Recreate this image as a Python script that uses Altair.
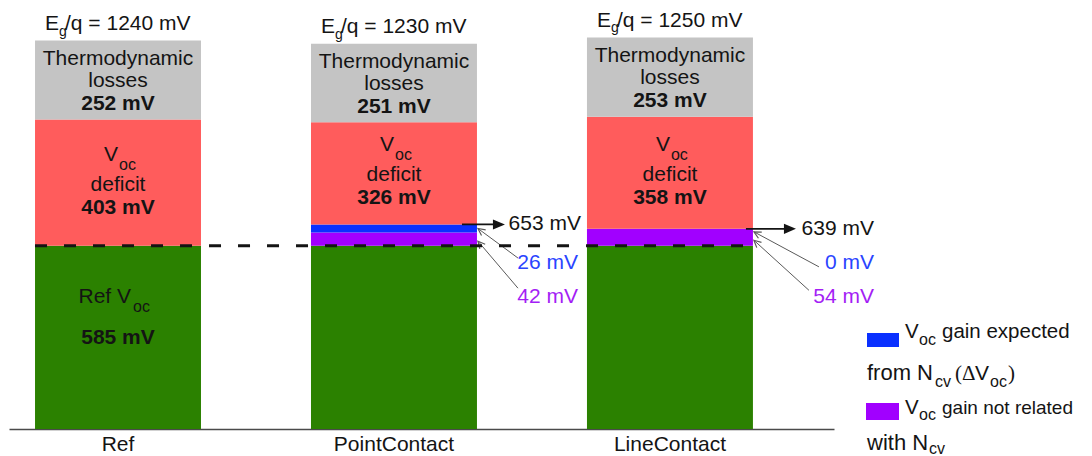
import math
import pandas as pd
import altair as alt

# ---------------- data ----------------
categories = ["Ref", "PointContact", "LineContact"]
ref_voc = [585, 585, 585]
gain_not_ncv = [0, 42, 54]      # purple: Voc gain not related with Ncv
gain_ncv = [0, 26, 0]           # blue: Voc gain expected from Ncv
voc_deficit = [403, 326, 358]
thermo_losses = [252, 251, 253]
bandgap = [1240, 1230, 1250]
reference_voc = 585

SEGMENTS = ["ref", "other", "ncv", "deficit", "thermo"]
COLORS = ["#2b8100", "#a100ff", "#0a30ff", "#ff5c5c", "#c4c4c4"]
BLUE_TXT = "#2a44ff"
PURPLE_TXT = "#a41ef5"

SANS = "Liberation Sans"
SERIF = "Liberation Serif"
INK = "#141414"
GREY_ARROW = "#5a5a5a"

rows = []
for i, cat in enumerate(categories):
    base = 0.0
    for seg, vals in zip(SEGMENTS, [ref_voc, gain_not_ncv, gain_ncv, voc_deficit, thermo_losses]):
        v = vals[i]
        rows.append({"cat": cat, "seg": seg, "value": v, "y0": base,
                     "y1": base + v, "mid": base + v / 2})
        base += v
seg_df = pd.DataFrame(rows)

xscale = alt.Scale(domain=categories, paddingInner=0.3986, paddingOuter=0.194, align=0.243)
yscale = alt.Scale(domain=[0, 1344], nice=False, zero=True)
xaxis = alt.Axis(labelAngle=0, ticks=False, domainColor="#4a4a4a", domainWidth=1.6,
                 labelFont=SANS, labelFontSize=21, labelColor=INK, labelPadding=4,
                 title=None, grid=False)


def X(field="cat", band=None):
    if band is None:
        return alt.X(f"{field}:N", scale=xscale, axis=xaxis, title=None)
    return alt.X(f"{field}:N", scale=xscale, axis=xaxis, title=None, bandPosition=band)


def Y(field):
    return alt.Y(f"{field}:Q", scale=yscale, axis=None)


def text(df, col, dy, dx=0, size=21, weight="normal", align="center", color=INK,
         yfield="mid", font=SANS, baseline="alphabetic", band=0.5):
    return alt.Chart(df).mark_text(
        dx=dx, dy=dy, fontSize=size, fontWeight=weight, align=align,
        baseline=baseline, color=color, font=font
    ).encode(x=X("cat", band), y=Y(yfield), text=alt.Text(f"{col}:N"))


one = pd.DataFrame({"k": [0]})


def ltext(s, x, y, size=21, font=SANS, color=INK):
    return alt.Chart(one).mark_text(
        text=s, align="left", baseline="alphabetic", fontSize=size, font=font, color=color
    ).encode(x=alt.value(x), y=alt.value(y))


def lrect(color, x, x2, y, y2):
    return alt.Chart(one).mark_rect(color=color).encode(
        x=alt.value(x), x2=alt.value(x2), y=alt.value(y), y2=alt.value(y2))


layers = []

# ---------------- stacked bars ----------------
bars = alt.Chart(seg_df).mark_bar().encode(
    x=X("cat"),
    y=Y("y0"),
    y2="y1:Q",
    color=alt.Color("seg:N", scale=alt.Scale(domain=SEGMENTS, range=COLORS), legend=None),
)
layers.append(bars)

# ---------------- segment labels ----------------
gray = seg_df[seg_df.seg == "thermo"].copy()
gray["l1"] = "Thermodynamic"
gray["l2"] = "losses"
gray["l3"] = gray.value.astype(int).astype(str) + " mV"
layers += [text(gray, "l1", -15), text(gray, "l2", 7), text(gray, "l3", 30, weight="bold")]

red = seg_df[seg_df.seg == "deficit"].copy()
red["a"] = "V"
red["b"] = "oc"
red["c"] = "deficit"
red["d"] = red.value.astype(int).astype(str) + " mV"
layers += [text(red, "a", -22, dx=0, align="right"),
           text(red, "b", -13, dx=1, align="left", size=16),
           text(red, "c", 8),
           text(red, "d", 31, weight="bold")]

green = seg_df[(seg_df.seg == "ref") & (seg_df.cat == "Ref")].copy()
green["a"] = "Ref V"
green["b"] = "oc"
green["d"] = green.value.astype(int).astype(str) + " mV"
layers += [text(green, "a", -34, dx=13, align="right"),
           text(green, "b", -25, dx=15, align="left", size=16),
           text(green, "d", 7, weight="bold")]

top = pd.DataFrame({"cat": categories, "eg": bandgap})
top["a"] = "E"
top["b"] = "g"
top["c"] = "/q = " + top.eg.astype(str) + " mV"
layers += [text(top, "a", -10.5, dx=-59, align="right", yfield="eg"),
           text(top, "b", -5, dx=-59, align="left", size=14, yfield="eg"),
           text(top, "c", -10.5, dx=-53, align="left", yfield="eg")]

# ---------------- annotations with arrows ----------------
HEAD = "M0,0 L-1,-0.42 L-1,0.42 Z"
OPEN_HEAD = "M-1,-0.5 L0,0 L-1,0.5"

ann_style = {
    "PointContact": dict(arrow=(-15, 28), total_right=104, lab_right=101,
                         ncv_dy=34.5, oth_dy=58,
                         a1=((41, 29.5), (1, 0)), a2=((41, 49), (1, 2))),
    "LineContact": dict(arrow=(-7, 43), total_right=121, lab_right=121,
                        ncv_dy=34, oth_dy=60,
                        a1=((66, 38), (1, 3)), a2=((56, 53), (1, 3))),
}

for cat, st in ann_style.items():
    i = categories.index(cat)
    total = ref_voc[i] + gain_not_ncv[i] + gain_ncv[i]
    df = pd.DataFrame({
        "cat": [cat],
        "total": [total],
        "ncv_mid": [ref_voc[i] + gain_not_ncv[i] + gain_ncv[i] / 2],
        "oth_mid": [ref_voc[i] + gain_not_ncv[i] / 2],
        "t_total": [f"{total} mV"],
        "t_ncv": [f"{gain_ncv[i]} mV"],
        "t_oth": [f"{gain_not_ncv[i]} mV"],
    })
    a0, a1 = st["arrow"]
    layers.append(alt.Chart(df).mark_rule(color=INK, strokeWidth=1.7, xOffset=a0, x2Offset=a1 - 8).encode(
        x=X("cat", 1), x2=alt.X2("cat:N", bandPosition=1), y=Y("total")))
    layers.append(alt.Chart(df).mark_point(shape=HEAD, size=576, filled=True, color=INK, opacity=1,
                                           xOffset=a1).encode(x=X("cat", 1), y=Y("total")))
    layers.append(text(df, "t_total", 0, dx=st["total_right"], align="right", yfield="total",
                       baseline="middle", band=1))
    for key, field, col, dy, color in [("a1", "ncv_mid", "t_ncv", st["ncv_dy"], BLUE_TXT),
                                       ("a2", "oth_mid", "t_oth", st["oth_dy"], PURPLE_TXT)]:
        (sx, sy), (tx, ty) = st[key]
        ang = math.degrees(math.atan2(ty - sy, tx - sx)) % 360
        layers.append(alt.Chart(df).mark_rule(color=GREY_ARROW, strokeWidth=1,
                                              xOffset=sx, x2Offset=tx, yOffset=sy, y2Offset=ty).encode(
            x=X("cat", 1), x2=alt.X2("cat:N", bandPosition=1), y=Y(field), y2=alt.Y2(f"{field}:Q")))
        layers.append(alt.Chart(df).mark_point(shape=OPEN_HEAD, size=196, filled=False, color=GREY_ARROW,
                                               strokeWidth=1.2, opacity=1, angle=ang,
                                               xOffset=tx, yOffset=ty).encode(x=X("cat", 1), y=Y(field)))
        layers.append(text(df, col, dy, dx=st["lab_right"], align="right", yfield=field,
                           baseline="middle", band=1, color=color))

# ---------------- dashed reference line ----------------
dash_df = pd.DataFrame({"cat": [categories[0]], "end": [categories[-1]], "v": [reference_voc]})
layers.append(alt.Chart(dash_df).mark_rule(color=INK, strokeWidth=3, strokeDash=[12, 17]).encode(
    x=X("cat", 0),
    x2=alt.X2("end:N", bandPosition=1),
    y=Y("v")))

# ---------------- custom legend ----------------
layers += [
    lrect(COLORS[2], 858, 890, 325, 339),
    ltext("V", 896, 330, size=20.5),
    ltext("oc", 910, 337, size=16),
    ltext("gain expected", 933, 330, size=20.5),
    ltext("from N", 858, 372, size=22),
    ltext("cv", 926, 379, size=16),
    ltext("(Δ", 946, 372, font=SERIF),
    ltext("V", 966, 372),
    ltext("oc", 981, 379, size=16),
    ltext(")", 999, 372, font=SERIF),
    lrect(COLORS[1], 857, 890, 395, 412),
    ltext("V", 896, 406, size=20.5),
    ltext("oc", 910, 412, size=16),
    ltext("gain not related", 933, 406, size=19),
    ltext("with N", 858, 442, size=22),
    ltext("cv", 920, 446, size=16),
]

chart = alt.layer(*layers).properties(
    width=825, height=421,
    autosize=alt.AutoSizeParams(type="none"),
    padding={"left": 1, "top": 0, "right": 250, "bottom": 31},
    background="white",
).configure_view(stroke=None)

chart.save("out.html", embed_options={"renderer": "svg", "actions": False})
